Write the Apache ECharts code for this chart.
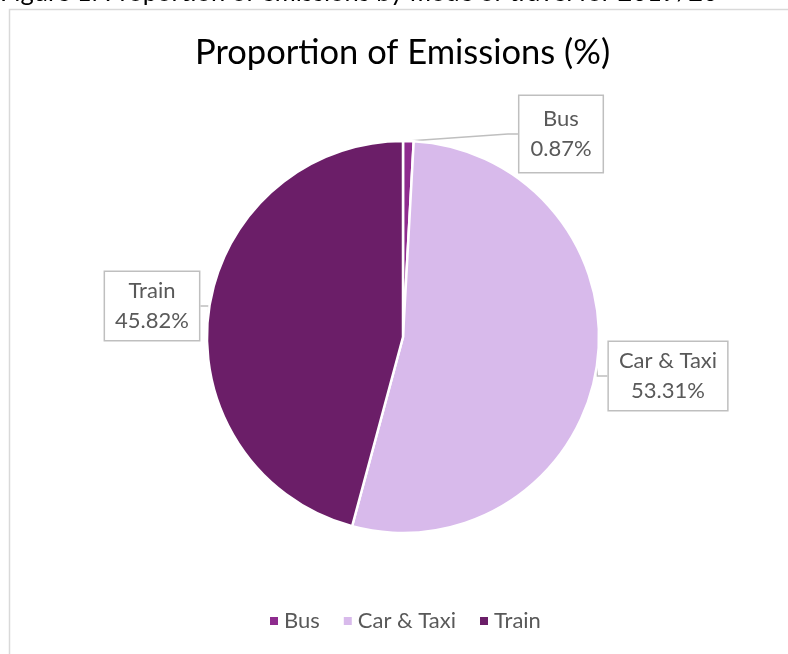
<!DOCTYPE html>
<html>
<head>
<meta charset="utf-8">
<script src="https://cdn.jsdelivr.net/npm/echarts@6/dist/echarts.min.js"></script>
<style>
html,body{margin:0;padding:0;background:#fff;}
#c{width:788px;height:654px;}
</style>
</head>
<body>
<div id="c"></div>
<script>
const categories = ['Bus', 'Car & Taxi', 'Train'];
const values = [0.87, 53.31, 45.82];
const colors = ['#8E2B8E', '#D8BAEB', '#6B1E68'];

const FONT = 'Lato, "Open Sans", sans-serif';
const labelPos = [
  { x: 561, y: 134 },
  { x: 668, y: 376 },
  { x: 152, y: 306 }
];

const chart = echarts.init(document.getElementById('c'));
chart.setOption({
  animation: false,
  backgroundColor: '#fff',
  color: colors,
  title: {
    text: 'Proportion of Emissions (%)',
    left: 190,
    top: 30,
    textStyle: { fontFamily: FONT, fontSize: 34.5, fontWeight: 'normal', color: '#000' }
  },
  legend: {
    top: 605,
    left: 263,
    icon: 'rect',
    itemWidth: 10,
    itemHeight: 10,
    itemGap: 22,
    textStyle: { fontFamily: FONT, fontSize: 22, color: '#595959' },
    data: categories
  },
  graphic: [
    { type: 'rect', shape: { x: 9.5, y: 9.5, width: 900, height: 800 }, style: { fill: 'none', stroke: '#D9D9D9', lineWidth: 1.5 }, silent: true },
    { type: 'text', left: 0, top: -20, style: { text: 'Figure 1: Proportion of emissions by mode of travel for 2019/20', font: '25.5px ' + FONT, fill: '#000' } }
  ],
  series: [{
    type: 'pie',
    center: [403, 337],
    radius: 196,
    startAngle: 90,
    clockwise: true,
    data: categories.map((n, i) => ({
      name: n,
      value: values[i],
      label: { padding: i === 0 ? [8, 11, 8, 11] : [4, 10, 4, 10] }
    })),
    itemStyle: { borderColor: '#fff', borderWidth: 2.5 },
    label: {
      show: true,
      formatter: p => p.name + '\n' + p.value.toFixed(2) + '%',
      fontFamily: FONT,
      fontSize: 22,
      lineHeight: 30,
      color: '#595959',
      backgroundColor: '#fff',
      borderColor: '#BFBFBF',
      borderWidth: 1.5,
      align: 'center'
    },
    labelLine: { show: true, length: 10, length2: 10, lineStyle: { color: '#BFBFBF', width: 1.5 } },
    labelLayout: function (params) {
      const p = labelPos[params.dataIndex];
      return { x: p.x, y: p.y, align: 'center', verticalAlign: 'middle' };
    },
    emphasis: { disabled: true }
  }]
});
</script>
</body>
</html>
